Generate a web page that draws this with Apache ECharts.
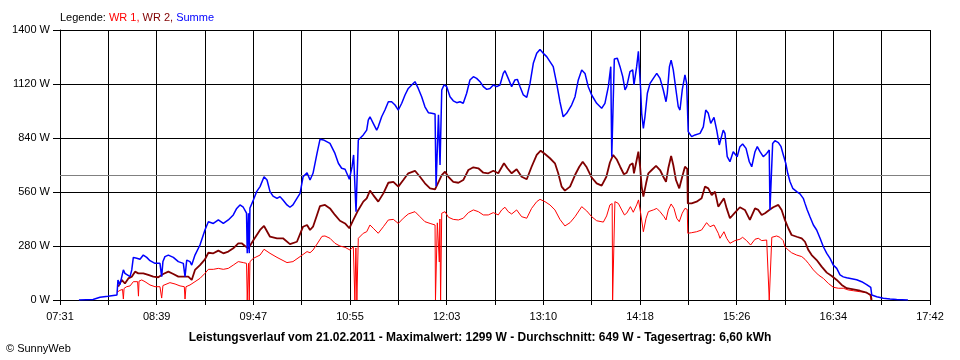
<!DOCTYPE html>
<html><head><meta charset="utf-8">
<script src="https://cdn.jsdelivr.net/npm/echarts@6/dist/echarts.min.js"></script>
<style>html,body{margin:0;padding:0;background:#fff}#c{width:960px;height:360px}</style>
</head><body><div id="c"></div>
<script>
// x tick labels (every second grid line carries a label)
const xTickLabels = ['07:31','08:39','09:47','10:55','12:03','13:10','14:18','15:26','16:34','17:42'];
const startMin = 451;   // 07:31 in minutes after midnight
const endMin = 1062;    // 17:42
const yMax = 1400;
const yStep = 280;
const average = 649;    // Durchschnitt
const legendNames = ['WR 1', 'WR 2', 'Summe'];
const footerText = 'Leistungsverlauf vom 21.02.2011 - Maximalwert: 1299 W - Durchschnitt: 649 W - Tagesertrag: 6,60 kWh';

// [minutes after midnight, W]
const wr1 = [[491.0,40],[493.1,50],[494.9,55],[495.5,5],[496.0,60],[497.8,69],[500.2,73],[502.5,95],[505.5,95],[506.1,20],[506.5,98],[508.4,104],[510.7,95],[514.2,78],[517.7,69],[521.2,69],[522.4,10],[523.3,75],[524.7,83],[528.2,90],[531.8,83],[535.3,73],[538.3,69],[538.8,5],[539.5,69],[542.3,78],[545.8,95],[549.3,112],[552.8,138],[555.2,159],[558.7,159],[562.2,164],[565.7,159],[569.2,164],[572.7,181],[576.2,199],[579.7,194],[582.0,190],[582.5,0],[583.4,190],[583.9,0],[584.4,199],[586.8,216],[591.5,233],[594.3,263],[598.5,242],[603.4,221],[610.4,194],[614.6,199],[619.6,225],[624.5,251],[626.6,245],[628.7,259],[631.5,290],[632.2,300],[635.0,330],[637.1,332],[640.6,320],[644.1,294],[647.6,280],[651.2,273],[654.7,259],[657.0,276],[658.1,0],[658.8,270],[659.5,0],[660.5,320],[664.0,346],[666.4,354],[668.7,389],[671.0,372],[674.5,346],[678.1,380],[681.6,415],[685.1,418],[688.6,397],[692.1,424],[695.6,446],[700.3,458],[703.8,432],[707.3,406],[710.9,397],[714.4,389],[714.7,0],[715.6,0],[716.0,400],[717.1,400],[717.4,197],[717.8,420],[718.3,0],[718.8,0],[719.1,450],[721.4,458],[723.8,429],[727.2,418],[730.8,415],[734.2,424],[737.8,453],[741.3,467],[744.8,458],[748.3,441],[751.8,441],[755.3,453],[758.8,441],[761.2,467],[763.5,481],[765.8,458],[768.2,446],[771.7,467],[775.2,432],[778.8,424],[782.2,475],[785.8,510],[788.1,522],[791.6,510],[795.1,493],[798.6,467],[802.1,418],[805.6,384],[809.2,401],[812.7,432],[817.4,484],[820.9,462],[824.4,432],[827.9,411],[832.6,404],[834.9,436],[837.2,493],[838.8,500],[839.1,0],[840.3,0],[840.7,510],[843.1,501],[845.5,467],[847.4,441],[849.0,450],[851.6,484],[853.6,455],[856.0,493],[857.3,519],[858.8,450],[860.7,354],[862.6,424],[864.2,458],[867.7,467],[870.1,475],[872.4,458],[875.2,432],[876.6,415],[878.2,467],[880.2,498],[882.2,475],[884.1,424],[885.9,406],[888.0,450],[889.9,475],[891.5,470],[891.9,346],[894.6,349],[898.1,354],[901.6,363],[905.1,401],[907.5,380],[910.3,389],[913.3,346],[914.5,320],[917.3,354],[919.2,320],[921.5,294],[925.0,308],[928.5,315],[930.4,325],[933.2,308],[936.0,285],[939.1,315],[941.4,320],[943.8,308],[947.3,311],[948.7,315],[949.1,0],[950.5,0],[950.9,325],[951.9,328],[954.3,332],[956.6,325],[958.9,308],[960.1,276],[962.5,259],[964.8,245],[968.4,233],[971.9,225],[974.2,211],[976.6,190],[980.1,156],[983.6,130],[987.1,112],[990.6,86],[994.1,66],[997.6,61],[1001.1,61],[1004.6,52],[1008.2,48],[1012.8,43],[1017.5,38],[1019.9,26],[1020.6,0]];

const wr2 = [[491.9,69],[494.3,104],[496.6,86],[499.0,112],[501.4,121],[503.7,147],[506.0,138],[509.5,138],[513.0,130],[516.5,121],[520.0,118],[523.5,135],[527.1,147],[530.6,135],[534.1,121],[537.6,121],[541.1,121],[543.5,104],[545.8,156],[549.3,181],[552.8,211],[555.2,245],[558.7,242],[562.2,256],[565.7,242],[569.2,251],[572.7,268],[576.2,294],[578.6,294],[580.9,280],[583.3,268],[584.4,276],[586.8,310],[591.5,363],[594.3,384],[598.5,328],[603.4,320],[607.6,320],[612.5,290],[617.4,302],[621.7,380],[624.5,389],[626.6,363],[628.7,380],[631.5,441],[633.6,487],[637.1,493],[640.6,475],[644.1,441],[647.6,411],[651.2,397],[654.2,372],[657.0,415],[660.5,467],[664.0,510],[666.4,527],[668.7,567],[671.0,544],[674.5,510],[678.1,553],[681.6,608],[685.1,613],[688.6,588],[692.1,622],[695.6,657],[700.3,670],[703.8,639],[707.3,605],[710.9,579],[714.4,574],[719.1,648],[721.4,665],[723.8,639],[727.2,613],[730.8,608],[734.2,622],[737.8,674],[741.3,688],[744.8,683],[748.3,660],[751.8,657],[755.3,670],[758.8,657],[761.2,688],[762.8,709],[765.2,683],[768.2,657],[771.7,678],[775.2,639],[778.8,626],[782.2,691],[785.8,752],[788.6,774],[791.6,757],[795.1,735],[798.6,709],[800.9,657],[803.3,588],[805.6,567],[809.2,588],[812.7,648],[815.7,691],[818.1,717],[820.9,688],[824.4,635],[827.9,605],[831.4,593],[834.7,639],[837.2,713],[839.5,752],[841.9,730],[844.4,691],[847.0,652],[849.0,660],[851.3,700],[853.2,709],[854.1,657],[856.0,726],[857.2,769],[858.4,691],[859.5,588],[860.7,536],[862.6,605],[864.2,657],[866.6,674],[869.6,695],[872.4,674],[874.7,639],[876.6,613],[878.2,683],[880.2,747],[881.7,700],[883.6,622],[885.9,579],[888.0,639],[889.9,691],[891.5,680],[891.9,501],[894.6,501],[898.1,510],[901.6,527],[904.0,588],[906.3,579],[908.7,544],[911.0,562],[913.3,484],[914.5,484],[917.3,527],[919.2,475],[921.5,424],[925.0,453],[928.5,481],[932.0,467],[935.5,415],[939.1,475],[941.4,467],[943.8,441],[946.1,450],[949.1,467],[951.9,481],[955.5,493],[957.8,467],[960.1,415],[962.5,372],[964.8,337],[968.4,328],[971.9,320],[974.2,302],[976.6,259],[978.9,233],[982.4,207],[985.9,173],[989.5,142],[993.0,124],[996.5,104],[1000.0,78],[1003.5,61],[1008.2,55],[1012.8,48],[1017.5,38],[1020.4,26],[1021.0,0]];

const summe = [[464.3,0],[474.2,3],[479.1,14],[484.7,19],[491.0,26],[491.7,104],[493.1,80],[495.5,156],[496.6,138],[500.2,121],[501.4,156],[502.5,221],[504.9,216],[507.2,211],[509.5,233],[511.9,221],[514.2,204],[517.7,190],[521.2,190],[522.4,121],[523.3,200],[524.7,225],[527.1,233],[530.6,221],[534.1,199],[537.6,190],[538.8,121],[540.0,207],[542.3,199],[543.5,181],[545.8,233],[549.3,285],[552.8,363],[555.2,406],[558.7,397],[562.2,415],[565.7,397],[569.2,415],[572.7,441],[575.1,475],[577.4,493],[579.7,481],[582.0,450],[582.5,243],[583.4,450],[583.9,243],[584.4,477],[586.8,518],[589.1,562],[591.5,588],[594.3,639],[596.4,622],[598.5,562],[600.6,539],[603.4,527],[605.5,536],[607.6,518],[610.4,493],[612.5,481],[614.6,493],[617.4,527],[619.6,553],[621.7,639],[624.5,660],[626.6,622],[628.7,657],[631.5,760],[633.6,833],[636.0,830],[640.6,812],[644.1,760],[646.5,709],[648.8,683],[651.2,678],[653.5,639],[654.2,626],[656.1,690],[657.2,752],[658.2,760],[658.9,458],[659.6,458],[660.5,830],[664.0,856],[666.4,881],[667.5,933],[668.7,950],[671.0,916],[673.4,881],[674.5,898],[676.9,950],[679.2,985],[681.6,1028],[683.9,1028],[686.3,1011],[688.6,985],[691.0,1020],[693.3,1063],[695.6,1097],[698.0,1115],[700.3,1132],[702.6,1097],[705.0,1054],[707.3,1002],[709.7,971],[712.0,968],[714.4,964],[715.1,590],[716.1,590],[716.8,960],[717.9,700],[719.1,1089],[720.7,1115],[722.6,1106],[724.9,1054],[727.2,1033],[729.6,1023],[731.9,1028],[734.2,1020],[736.6,1072],[738.9,1141],[741.3,1158],[743.6,1149],[746.0,1132],[748.3,1106],[750.7,1092],[753.0,1097],[755.3,1115],[757.7,1106],[760.0,1115],[762.3,1175],[763.5,1189],[765.8,1149],[768.2,1106],[770.5,1141],[772.2,1144],[774.1,1106],[776.4,1063],[778.8,1051],[781.1,1123],[783.4,1227],[785.8,1279],[788.1,1299],[790.4,1279],[792.8,1262],[795.1,1236],[797.4,1210],[799.8,1123],[802.1,1028],[804.4,950],[806.8,968],[810.3,1011],[812.7,1054],[815.0,1141],[817.4,1193],[819.7,1175],[822.0,1106],[824.4,1063],[827.9,1020],[831.4,994],[833.7,1020],[836.1,1106],[837.8,1210],[838.5,743],[839.8,743],[840.3,1250],[842.4,1253],[844.3,1210],[846.2,1158],[847.8,1089],[849.0,1106],[851.3,1184],[853.2,1193],[854.1,1115],[856.0,1210],[857.2,1290],[857.9,1201],[858.8,1089],[859.5,968],[860.7,890],[861.8,950],[863.5,1072],[865.4,1123],[867.7,1149],[870.1,1175],[872.4,1149],[874.7,1089],[876.6,1028],[877.5,1072],[879.0,1210],[880.2,1244],[881.7,1193],[883.6,1089],[885.2,1002],[886.4,985],[888.0,1089],[889.9,1167],[891.1,1123],[891.7,1120],[892.2,873],[894.6,847],[897.0,856],[900.5,864],[902.8,898],[904.5,985],[906.3,968],[908.0,916],[910.3,947],[912.2,881],[914.0,804],[914.5,795],[916.8,881],[918.0,864],[919.6,743],[921.5,717],[923.8,769],[925.0,760],[926.6,743],[928.5,795],[930.4,809],[932.8,786],[935.1,717],[936.8,691],[939.1,769],[940.7,795],[942.6,769],[944.9,743],[947.3,760],[949.1,778],[949.6,467],[950.8,467],[951.5,812],[953.1,826],[955.5,816],[957.4,795],[959.0,752],[960.7,709],[962.1,657],[963.7,613],[965.6,579],[968.4,562],[970.7,550],[973.0,527],[974.2,501],[975.8,467],[977.7,432],[980.1,389],[982.4,363],[984.8,320],[987.1,276],[989.5,242],[991.8,216],[994.1,181],[996.5,164],[998.8,130],[1001.1,120],[1003.5,115],[1007.0,110],[1010.5,105],[1014.0,95],[1017.5,80],[1020.4,65],[1021.1,26],[1024.6,17],[1029.2,9],[1033.9,5],[1038.6,2],[1046.5,0]];

const FONT = "'Liberation Sans', Arial, sans-serif";
const span = endMin - startMin;
const xStep = span / 18;
const shift = d => d.map(p => [p[0] - startMin, p[1]]);
const richStyle = c => ({color: c, fontSize: 11, fontWeight: 'normal', fontFamily: FONT});

const chart = echarts.init(document.getElementById('c'), null, {renderer: 'canvas'});
chart.setOption({
  animation: false,
  backgroundColor: '#ffffff',
  title: [
    {
      left: 60, top: 12, padding: 0,
      text: '{k|Legende: }{a|' + legendNames[0] + ', }{b|' + legendNames[1] + ', }{c|' + legendNames[2] + '}',
      textStyle: {
        fontWeight: 'normal', fontSize: 11, fontFamily: FONT,
        rich: {k: richStyle('#000000'), a: richStyle('#ff0000'), b: richStyle('#800000'), c: richStyle('#0000ff')}
      }
    },
    {
      left: 'center', top: 332, padding: 0,
      text: footerText,
      textStyle: {color: '#000', fontSize: 12, fontWeight: 'bold', fontFamily: FONT}
    },
    {
      left: 6, top: 343, padding: 0,
      text: '© SunnyWeb',
      textStyle: {color: '#000', fontSize: 11, fontWeight: 'normal', fontFamily: FONT}
    }
  ],
  grid: {left: 60, right: 30, top: 30, bottom: 60, containLabel: false},
  xAxis: {
    type: 'value', min: 0, max: span, interval: xStep,
    axisLine: {show: true, lineStyle: {color: '#000', width: 1}},
    axisTick: {show: true, length: 5, lineStyle: {color: '#000'}},
    axisLabel: {
      margin: 11, color: '#000', fontSize: 11, fontFamily: FONT,
      showMinLabel: true, showMaxLabel: true,
      formatter: function (v) {
        const k = Math.round(v / xStep);
        return (k % 2 === 0) ? (xTickLabels[k / 2] || '') : '';
      }
    },
    splitLine: {show: true, lineStyle: {color: '#000', width: 1}}
  },
  yAxis: {
    type: 'value', min: 0, max: yMax, interval: yStep,
    axisLine: {show: true, lineStyle: {color: '#000', width: 1}},
    axisTick: {show: true, length: 7, lineStyle: {color: '#000'}},
    axisLabel: {margin: 10, color: '#000', fontSize: 11, fontFamily: FONT, formatter: v => String(v) + ' W'},
    splitLine: {show: true, lineStyle: {color: '#000', width: 1}}
  },
  series: [
    {
      name: legendNames[0], type: 'line', data: shift(wr1), showSymbol: false, symbol: 'none',
      lineStyle: {color: '#ff0000', width: 1}, itemStyle: {color: '#ff0000'}, z: 3,
      markLine: {
        silent: true, symbol: 'none', label: {show: false},
        lineStyle: {color: '#808080', width: 1, type: 'solid'},
        data: [{yAxis: average}]
      }
    },
    {
      name: legendNames[1], type: 'line', data: shift(wr2), showSymbol: false, symbol: 'none',
      lineStyle: {color: '#800000', width: 1.8}, itemStyle: {color: '#800000'}, z: 4
    },
    {
      name: legendNames[2], type: 'line', data: shift(summe), showSymbol: false, symbol: 'none',
      lineStyle: {color: '#0000ff', width: 1.5}, itemStyle: {color: '#0000ff'}, z: 5
    }
  ]
});
</script>
</body></html>
